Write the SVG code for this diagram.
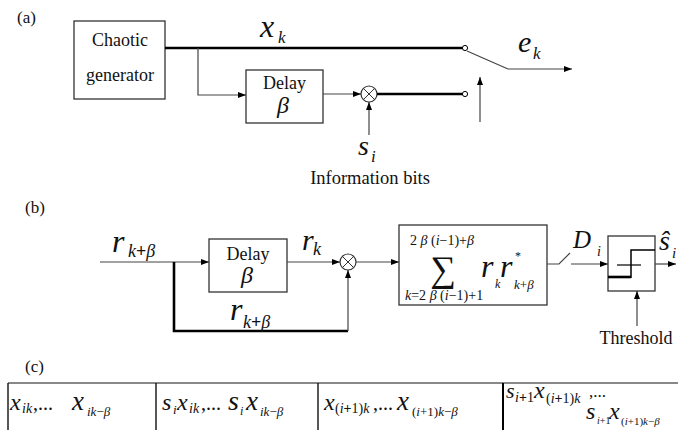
<svg xmlns="http://www.w3.org/2000/svg" width="678" height="430" viewBox="0 0 678 430">
<style>
text{font-family:"Liberation Serif","Times New Roman",serif;fill:#111}
.it{font-style:italic}
.box{fill:#fff;stroke:#333;stroke-width:1.3}
.thin{fill:none;stroke:#444;stroke-width:1.2}
.thick{fill:none;stroke:#000;stroke-width:2.6}
.tbl{fill:none;stroke:#111;stroke-width:1.4}
</style>
<defs>
<marker id="ah" viewBox="0 0 8 6" refX="8" refY="3" markerWidth="8" markerHeight="6" markerUnits="userSpaceOnUse" orient="auto">
<path d="M0,0 L8,3 L0,6 z" fill="#000"/>
</marker>
</defs>
<rect width="678" height="430" fill="#fff"/>

<!-- (a) -->
<text x="17" y="23" font-size="17">(a)</text>
<g id="chaotic">
<rect class="box" x="74" y="21" width="91" height="78"/>
<text x="120" y="46" font-size="18" text-anchor="middle">Chaotic</text>
<text x="120" y="81" font-size="18" text-anchor="middle">generator</text>
</g>
<g id="delayA">
<rect class="box" x="246" y="70" width="77" height="53"/>
<text x="284.5" y="89" font-size="18" text-anchor="middle">Delay</text>
<text x="283" y="113" font-size="24" class="it" text-anchor="middle">β</text>
</g>
<g id="mixA">
<circle cx="369" cy="94" r="8" fill="#fff" stroke="#333" stroke-width="1.2"/>
<path d="M363.3,88.3 L374.7,99.7 M374.7,88.3 L363.3,99.7" stroke="#333" stroke-width="1"/>
</g>
<g id="termA">
<circle cx="465" cy="48" r="2.6" fill="#fff" stroke="#000" stroke-width="1"/>
<circle cx="465" cy="94" r="2.6" fill="#fff" stroke="#000" stroke-width="1"/>
</g>
<g id="connectorsA">
<path class="thick" d="M165,48 H462.4"/>
<path class="thin" d="M198,48 V95 H246" marker-end="url(#ah)"/>
<path class="thin" d="M323,94 H361" marker-end="url(#ah)"/>
<path class="thin" d="M369,135 V102" marker-end="url(#ah)"/>
<path class="thick" d="M377,94 H462.4"/>
<path class="thin" d="M467,51 L508,69"/>
<path class="thin" d="M508,69 H572" stroke="#000" marker-end="url(#ah)"/>
<path class="thin" d="M480,122 V77" marker-end="url(#ah)"/>
</g>
<text x="260" y="37" font-size="32" class="it">x</text>
<text x="278" y="43" font-size="17" class="it">k</text>
<text x="518" y="52" font-size="30" class="it">e</text>
<text x="533" y="59" font-size="17" class="it">k</text>
<text x="358" y="155" font-size="28" class="it">s</text>
<text x="371" y="162" font-size="17" class="it">i</text>
<text x="370" y="184" font-size="18.5" text-anchor="middle">Information bits</text>

<!-- (b) -->
<text x="25" y="213" font-size="17">(b)</text>
<g id="delayB">
<rect class="box" x="209" y="239" width="78" height="53"/>
<text x="248" y="260" font-size="18" text-anchor="middle">Delay</text>
<text x="247" y="283" font-size="24" class="it" text-anchor="middle">β</text>
</g>
<g id="mixB">
<circle cx="348" cy="262" r="8" fill="#fff" stroke="#333" stroke-width="1.2"/>
<path d="M342.3,256.3 L353.7,267.7 M353.7,256.3 L342.3,267.7" stroke="#333" stroke-width="1"/>
</g>
<g id="sumBox">
<rect class="box" x="399" y="225" width="148" height="80"/>
<text x="443" y="281" font-size="36" text-anchor="middle">∑</text>
<text x="410" y="245" font-size="14">2<tspan class="it"> β </tspan>(<tspan class="it">i</tspan>−1)+<tspan class="it">β</tspan></text>
<text x="405" y="300" font-size="14"><tspan class="it">k</tspan>=2<tspan class="it"> β </tspan>(<tspan class="it">i</tspan>−1)+1</text>
<text x="481" y="277" font-size="32" class="it">r</text>
<text x="495" y="288" font-size="12" class="it">k</text>
<text x="500" y="277" font-size="32" class="it">r</text>
<text x="515" y="260" font-size="12">*</text>
<text x="514" y="289" font-size="13"><tspan class="it">k</tspan>+<tspan class="it">β</tspan></text>
</g>
<g id="threshold">
<rect class="box" x="608" y="236" width="47" height="55"/>
<path d="M608,277 H631" stroke="#000" stroke-width="2.6" fill="none"/>
<path d="M631,278 V250 H655" stroke="#000" stroke-width="1.5" fill="none"/>
<path d="M617,265 H641" stroke="#000" stroke-width="1.2"/>
</g>
<g id="connectorsB">
<path class="thin" d="M100,262 H209" marker-end="url(#ah)"/>
<path class="thin" d="M287,262 H340" marker-end="url(#ah)"/>
<path class="thick" d="M174,262 V331 H348"/>
<path class="thin" d="M348,331 V270" marker-end="url(#ah)"/>
<path class="thin" d="M356,262 H399" marker-end="url(#ah)"/>
<path class="thin" d="M547,264 H559 L570,253"/>
<path class="thin" d="M571,264 H608" marker-end="url(#ah)"/>
<path class="thin" d="M655,264 H676" marker-end="url(#ah)"/>
<path class="thin" d="M637,326 V291" marker-end="url(#ah)"/>
</g>
<text x="112" y="252" font-size="32" class="it">r</text>
<text x="128" y="257" font-size="18"><tspan class="it">k</tspan><tspan font-weight="bold">+</tspan><tspan class="it">β</tspan></text>
<text x="302" y="250" font-size="30" class="it">r</text>
<text x="313" y="255" font-size="18" class="it">k</text>
<text x="230" y="320" font-size="32" class="it">r</text>
<text x="243" y="328" font-size="18"><tspan class="it">k</tspan><tspan font-weight="bold">+</tspan><tspan class="it">β</tspan></text>
<text x="573" y="248" font-size="25" class="it">D</text>
<text x="597" y="256" font-size="14" class="it">i</text>
<text x="659" y="250" font-size="28" class="it">ŝ</text>
<text x="672" y="258" font-size="15" class="it">i</text>
<text x="636" y="344" font-size="18" text-anchor="middle">Threshold</text>

<!-- (c) -->
<text x="25" y="372" font-size="17">(c)</text>
<g id="table">
<path d="M8,383 H678" stroke="#888" stroke-width="2" fill="none"/>
<path class="tbl" d="M8,383 V430 M156,383 V430 M318,383 V430"/>
<path d="M503,383 V430" stroke="#000" stroke-width="2" fill="none"/>
</g>
<g id="cell1">
<text x="10" y="410" font-size="24" class="it">x</text>
<text x="22" y="413" font-size="14" class="it">ik</text>
<text x="33" y="410" font-size="20">,...</text>
<text x="72" y="410" font-size="27" class="it">x</text>
<text x="87" y="416" font-size="13"><tspan class="it">ik</tspan>−<tspan class="it">β</tspan></text>
</g>
<g id="cell2">
<text x="162" y="410" font-size="24" class="it">s</text>
<text x="173" y="414" font-size="13" class="it">i</text>
<text x="177" y="410" font-size="24" class="it">x</text>
<text x="189" y="413" font-size="14" class="it">ik</text>
<text x="201" y="410" font-size="20">,...</text>
<text x="228" y="410" font-size="28" class="it">s</text>
<text x="240" y="415" font-size="12" class="it">i</text>
<text x="246" y="410" font-size="27" class="it">x</text>
<text x="260" y="416" font-size="13"><tspan class="it">ik</tspan>−<tspan class="it">β</tspan></text>
</g>
<g id="cell3">
<text x="324" y="410" font-size="24" class="it">x</text>
<text x="335" y="413" font-size="14">(<tspan class="it">i</tspan><tspan font-weight="bold">+</tspan>1)<tspan class="it">k</tspan></text>
<text x="373" y="410" font-size="20">,...</text>
<text x="397" y="410" font-size="27" class="it">x</text>
<text x="412" y="416" font-size="13">(<tspan class="it">i</tspan>+1)<tspan class="it">k</tspan>−<tspan class="it">β</tspan></text>
</g>
<g id="cell4">
<text x="506" y="398" font-size="22" class="it">s</text>
<text x="515" y="402" font-size="14"><tspan class="it">i</tspan><tspan font-weight="bold">+</tspan>1</text>
<text x="534" y="398" font-size="24" class="it">x</text>
<text x="546" y="403" font-size="14">(<tspan class="it">i</tspan><tspan font-weight="bold">+</tspan>1)<tspan class="it">k</tspan></text>
<text x="589" y="397" font-size="17">,...</text>
<text x="586" y="419" font-size="24" class="it">s</text>
<text x="597" y="424" font-size="10"><tspan class="it">i</tspan>+1</text>
<text x="609" y="419" font-size="24" class="it">x</text>
<text x="621" y="425" font-size="11">(<tspan class="it">i</tspan>+1)<tspan class="it">k</tspan>−<tspan class="it">β</tspan></text>
</g>
</svg>
